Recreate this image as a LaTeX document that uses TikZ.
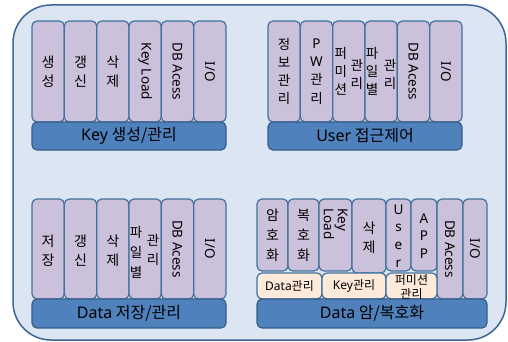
\documentclass[tikz,border=0pt]{standalone}
\usepackage{fontspec}
\newfontfamily\kr{Noto Sans CJK KR}
\newfontfamily\lat{Noto Sans}
\definecolor{outerfill}{HTML}{DCE6F2}
\definecolor{outerdraw}{HTML}{3E6596}
\definecolor{colfill}{HTML}{CCC1DA}
\definecolor{coldraw}{HTML}{41719C}
\definecolor{barfill}{HTML}{4F81BD}
\definecolor{bardraw}{HTML}{385D8A}
\definecolor{peach}{HTML}{FDEADA}
\newcommand\boxat[6]{\node[#1, minimum width={(#4-#2)*1pt}, minimum height={(#5-#3)*1pt}] (#6) at ({(#2+#4)/2},{(#3+#5)/2}) {};}
\tikzset{
  outerbox/.style={draw=outerdraw, line width=1.5pt, fill=outerfill, rounded corners=38pt, inner sep=0pt},
  colbox/.style={draw=coldraw, line width=1.2pt, fill=colfill, rounded corners=5pt, inner sep=0pt},
  barbox/.style={draw=bardraw, line width=1.2pt, fill=barfill, rounded corners=5pt, inner sep=0pt},
  peachbox/.style={draw=coldraw, line width=1.2pt, fill=peach, rounded corners=5pt, inner sep=0pt},
  kt/.style={font=\kr\fontsize{14}{19}\selectfont, align=center, inner sep=0pt, text=black},
  ks/.style={font=\kr\fontsize{13.5}{18.3}\selectfont, align=center, inner sep=0pt, text=black},
  rt/.style={font=\lat\fontsize{13.5}{14}\selectfont, inner sep=0pt, rotate=-90, text=black},
  pt/.style={font=\kr\fontsize{12}{14}\selectfont, align=center, inner sep=0pt, text=black},
  bt/.style={font=\kr\fontsize{16}{18}\selectfont, inner sep=0pt, text=black},
}
\begin{document}
\begin{tikzpicture}[x=1pt, y=-1pt]
\useasboundingbox (0,0) rectangle (508,342);
\boxat{outerbox}{13}{5}{506}{340}{frame}

% ---------- Key panel ----------
\boxat{colbox}{32}{21}{64.3}{122}{k1}
\boxat{colbox}{64.3}{21}{96.7}{122}{k2}
\boxat{colbox}{96.7}{21}{129}{122}{k3}
\boxat{colbox}{129}{21}{161.3}{122}{k4}
\boxat{colbox}{161.3}{21}{193.7}{122}{k5}
\boxat{colbox}{193.7}{21}{226}{122}{k6}
\boxat{barbox}{32}{122}{226}{150}{kb}
\node[kt] (k1t) at (k1) {생\\성};
\node[kt] (k2t) at (k2) {갱\\신};
\node[kt] (k3t) at (k3) {삭\\제};
\node[rt] (k4t) at (k4) {Key Load};
\node[rt] (k5t) at (k5) {DB Acess};
\node[rt] (k6t) at (k6) {I/O};
\node[bt] (kbt) at (kb) {{\lat Key} 생성/관리};

% ---------- User panel ----------
\boxat{colbox}{268}{21}{300.3}{122}{u1}
\boxat{colbox}{300.3}{21}{332.7}{122}{u2}
\boxat{colbox}{332.7}{21}{365}{122}{u3}
\boxat{colbox}{365}{21}{397.3}{122}{u4}
\boxat{colbox}{397.3}{21}{429.7}{122}{u5}
\boxat{colbox}{429.7}{21}{462}{122}{u6}
\boxat{barbox}{268}{122}{462}{150}{ub}
\node[ks] (u1t) at (u1) {정\\보\\관\\리};
\node[ks] (u2t) at (u2) {{\lat P}\\{\lat W}\\관\\리};
\node[ks] (u3a) at ([xshift=-8pt]u3) {퍼\\미\\션};
\node[ks] (u3b) at ([xshift=8pt,yshift=-3pt]u3) {관\\리};
\node[ks] (u4a) at ([xshift=-9pt]u4) {파\\일\\별};
\node[ks] (u4b) at ([xshift=9pt,yshift=-3pt]u4) {관\\리};
\node[rt] (u5t) at (u5) {DB Acess};
\node[rt] (u6t) at (u6) {I/O};
\node[bt] (ubt) at (ub) {{\lat User} 접근제어};

% ---------- Data storage panel ----------
\boxat{colbox}{32}{199}{64.3}{299}{d1}
\boxat{colbox}{64.3}{199}{96.7}{299}{d2}
\boxat{colbox}{96.7}{199}{129}{299}{d3}
\boxat{colbox}{129}{199}{161.3}{299}{d4}
\boxat{colbox}{161.3}{199}{193.7}{299}{d5}
\boxat{colbox}{193.7}{199}{226}{299}{d6}
\boxat{barbox}{32}{299}{226}{328}{db}
\node[kt] (d1t) at ([yshift=-2pt]d1) {저\\장};
\node[kt] (d2t) at ([yshift=-2pt]d2) {갱\\신};
\node[kt] (d3t) at ([yshift=-2pt]d3) {삭\\제};
\node[ks, font=\kr\fontsize{13.5}{20}\selectfont] (d4a) at ([xshift=-9pt,yshift=-3pt]d4) {파\\일\\별};
\node[ks] (d4b) at ([xshift=8pt,yshift=-1pt]d4) {관\\리};
\node[rt] (d5t) at (d5) {DB Acess};
\node[rt] (d6t) at (d6) {I/O};
\node[bt] (dbt) at (db) {{\lat Data} 저장/관리};

% ---------- Data crypto panel ----------
\boxat{colbox}{257}{199}{288}{271}{c1}
\boxat{colbox}{288}{199}{319}{271}{c2}
\boxat{colbox}{319}{199}{352}{271}{c3}
\boxat{colbox}{352}{199}{386}{273}{c4}
\boxat{colbox}{386}{199}{411}{271}{c5}
\boxat{colbox}{411}{199}{437}{271}{c6}
\boxat{colbox}{437}{199}{463}{299}{c7}
\boxat{colbox}{463}{199}{487}{299}{c8}
\boxat{peachbox}{257}{273}{322}{299}{p1}
\boxat{peachbox}{322}{273}{386}{299}{p2}
\boxat{peachbox}{386}{273}{437}{299}{p3}
\boxat{barbox}{257}{299}{487}{328}{cb}
\node[kt, font=\kr\fontsize{14}{20}\selectfont] (c1t) at (c1) {암\\호\\화};
\node[kt, font=\kr\fontsize{14}{20}\selectfont] (c2t) at (c2) {복\\호\\화};
\node[rt, align=left, anchor=west] (c3t) at ([yshift=-10pt]c3.north) {Key\\Load};
\node[kt] (c4t) at ([yshift=-2pt]c4) {삭\\제};
\node[font=\lat\fontsize{13.5}{17.7}\selectfont, align=center, inner sep=0pt] (c5t) at ([yshift=-1pt]c5) {U\\s\\e\\r};
\node[font=\lat\fontsize{13.5}{17.7}\selectfont, align=center, inner sep=0pt] (c6t) at ([yshift=-1pt]c6) {A\\P\\P};
\node[rt] (c7t) at (c7) {DB Acess};
\node[rt] (c8t) at (c8) {I/O};
\node[pt] (p1t) at (p1) {{\lat Data}관리};
\node[pt] (p2t) at (p2) {{\lat Key}관리};
\node[pt] (p3t) at ([yshift=-1pt]p3) {퍼미션\\관리};
\node[bt] (cbt) at (cb) {{\lat Data} 암/복호화};
\end{tikzpicture}
\end{document}
